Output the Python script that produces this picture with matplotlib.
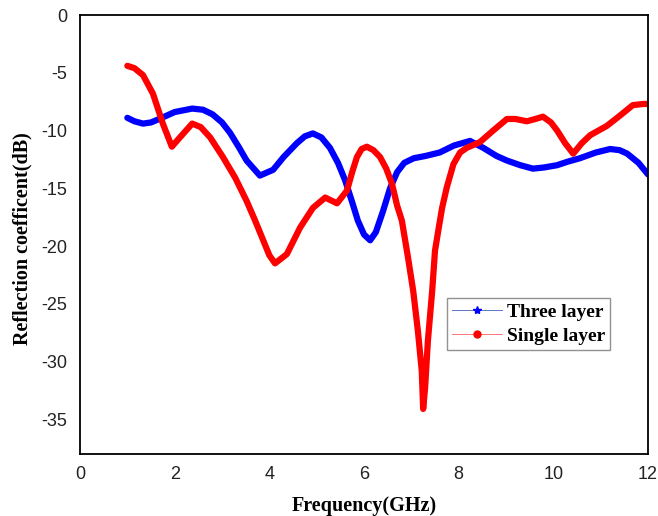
import matplotlib
matplotlib.use("Agg")
import matplotlib.pyplot as plt
from matplotlib.lines import Line2D

plt.rcParams["axes.unicode_minus"] = False

# Three layer absorber
freq_three = [1.0, 1.15, 1.33, 1.5, 1.7, 2.0, 2.37, 2.6, 2.8, 3.0, 3.17, 3.35,
              3.52, 3.8, 4.08, 4.3, 4.58, 4.75, 4.92, 5.1, 5.28, 5.45, 5.6,
              5.75, 5.87, 6.0, 6.13, 6.25, 6.4, 6.55, 6.7, 6.85, 7.05, 7.3,
              7.6, 7.9, 8.24, 8.52, 8.8, 9.02, 9.3, 9.57, 9.8, 10.08, 10.3,
              10.56, 10.9, 11.2, 11.4, 11.56, 11.8, 12.0]
rl_three = [-8.9, -9.2, -9.4, -9.3, -8.95, -8.4, -8.1, -8.2, -8.6, -9.3, -10.2,
            -11.4, -12.6, -13.9, -13.4, -12.3, -11.1, -10.5, -10.25, -10.6,
            -11.5, -12.8, -14.3, -16.2, -17.8, -19.0, -19.5, -18.8, -17.0,
            -15.0, -13.6, -12.8, -12.4, -12.2, -11.9, -11.3, -10.9, -11.5,
            -12.2, -12.6, -13.0, -13.3, -13.2, -13.0, -12.7, -12.4, -11.9,
            -11.6, -11.7, -12.0, -12.8, -13.8]

# Single layer absorber
freq_single = [1.0, 1.15, 1.33, 1.54, 1.75, 1.94, 2.11, 2.37, 2.55, 2.75, 3.02,
               3.28, 3.52, 3.7, 3.87, 4.0, 4.12, 4.37, 4.65, 4.92, 5.18, 5.43,
               5.64, 5.75, 5.85, 5.95, 6.06, 6.2, 6.34, 6.47, 6.59, 6.7, 6.8,
               6.93, 7.04, 7.14, 7.22, 7.25, 7.29, 7.35, 7.44, 7.5, 7.58, 7.65,
               7.75, 7.89, 8.03, 8.17, 8.45, 8.73, 9.02, 9.2, 9.44, 9.62, 9.78,
               9.95, 10.08, 10.25, 10.42, 10.6, 10.78, 11.13, 11.41, 11.68,
               11.9, 12.0]
rl_single = [-4.4, -4.6, -5.2, -6.8, -9.4, -11.4, -10.6, -9.4, -9.7, -10.6,
             -12.3, -14.1, -16.1, -17.8, -19.5, -20.8, -21.5, -20.7, -18.4,
             -16.7, -15.8, -16.3, -15.2, -13.6, -12.3, -11.6, -11.4, -11.7,
             -12.3, -13.3, -14.6, -16.5, -17.8, -21.0, -23.9, -27.4, -30.8,
             -34.1, -32.3, -28.2, -23.9, -20.4, -18.4, -16.7, -14.9, -12.9,
             -11.9, -11.5, -11.0, -10.0, -9.0, -9.0, -9.2, -9.0, -8.8, -9.3,
             -10.0, -11.1, -12.0, -11.1, -10.4, -9.6, -8.7, -7.8, -7.7, -7.7]

labels = ["Three layer", "Single layer"]
xticks = [0, 2, 4, 6, 8, 10, 12]
yticks = [0, -5, -10, -15, -20, -25, -30, -35]

fig = plt.figure(figsize=(6.58, 5.16), dpi=100)
ax = fig.add_axes([0.1216, 0.1202, 0.8632, 0.8507])

ax.plot(freq_three, rl_three, color="#0000ff", lw=4.5, solid_capstyle="round",
        solid_joinstyle="round")
ax.plot(freq_single, rl_single, color="#ff0000", lw=4.5, solid_capstyle="round",
        solid_joinstyle="round")

ax.set_xlim(0, 12)
ax.set_ylim(-38, 0)
ax.set_xticks(xticks)
ax.set_yticks(yticks)
ax.tick_params(length=0, pad=9, labelsize=13, labelcolor="#222222")
for lab in ax.get_xticklabels() + ax.get_yticklabels():
    lab.set_family("Liberation Sans")
for s in ax.spines.values():
    s.set_linewidth(1.3)

lab_font = dict(family="Liberation Serif", weight="bold", size=14.5)
ax.set_xlabel("Frequency(GHz)", fontdict=lab_font, labelpad=9)
ax.set_ylabel("Reflection coefficent(dB)", fontdict=lab_font)
ax.yaxis.set_label_coords(-0.083, 0.49)

handles = [
    Line2D([], [], color="#4060c0", lw=0.6, marker="*", ms=6, mfc="#0000ff", mec="#0000ff"),
    Line2D([], [], color="#ff6060", lw=0.6, marker="o", ms=5, mfc="#ff0000", mec="#ff0000"),
]
leg = ax.legend(handles, labels, loc="lower left", bbox_to_anchor=(0.646, 0.237),
                borderaxespad=0, fancybox=False, edgecolor="#777777",
                handlelength=2.6, handletextpad=0.25, borderpad=0.25,
                labelspacing=0.35,
                prop=dict(family="Liberation Serif", weight="bold", size=14))
leg.get_frame().set_linewidth(1.0)

fig.savefig("out.png", dpi=100)
